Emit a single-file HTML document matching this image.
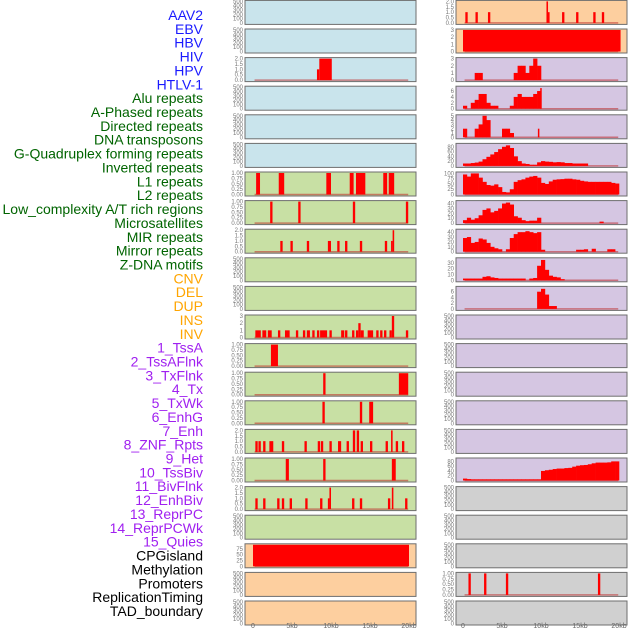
<!DOCTYPE html>
<html><head><meta charset="utf-8">
<style>
html,body{margin:0;padding:0;background:#fff;}
svg{display:block;font-family:"Liberation Sans",sans-serif;}
</style></head>
<body>
<svg id="chart" width="630" height="630" viewBox="0 0 630 630"></svg>
<script>
const NS="http://www.w3.org/2000/svg";
const svg=document.getElementById('chart');

// ---------- data ----------
const trackLabels=["AAV2","EBV","HBV","HIV","HPV","HTLV-1","Alu repeats","A-Phased repeats","Directed repeats","DNA transposons","G-Quadruplex forming repeats","Inverted repeats","L1 repeats","L2 repeats","Low_complexity A/T rich regions","Microsatellites","MIR repeats","Mirror repeats","Z-DNA motifs","CNV","DEL","DUP","INS","INV","1_TssA","2_TssAFlnk","3_TxFlnk","4_Tx","5_TxWk","6_EnhG","7_Enh","8_ZNF_Rpts","9_Het","10_TssBiv","11_BivFlnk","12_EnhBiv","13_ReprPC","14_ReprPCWk","15_Quies","CPGisland","Methylation","Promoters","ReplicationTiming","TAD_boundary"];
const labelColors=["#1a1aff","#1a1aff","#1a1aff","#1a1aff","#1a1aff","#1a1aff","#006400","#006400","#006400","#006400","#006400","#006400","#006400","#006400","#006400","#006400","#006400","#006400","#006400","#ffa500","#ffa500","#ffa500","#ffa500","#ffa500","#a020f0","#a020f0","#a020f0","#a020f0","#a020f0","#a020f0","#a020f0","#a020f0","#a020f0","#a020f0","#a020f0","#a020f0","#a020f0","#a020f0","#a020f0","#000","#000","#000","#000","#000"];
const xTicks=[0,5,10,15,20];
const xTickLabels=["0","5kb","10kb","15kb","20kb"];

// sparse events: [startKb, endKb, value]
const hivEvents=[[8.2,8.5,1],[8.5,10.1,2]];
const l1Events=[[0.4,0.9,1],[3.3,4.0,1],[9.4,10.0,1],[12.4,12.9,1],[13.2,14.4,1],[16.7,17.2,1],[17.4,18.1,1]];
const l2Events=[[2.2,2.5,1],[5.8,6.1,1],[12.8,13.1,1],[19.6,19.9,1]];
const lowCxEvents=[[3.5,3.8,1],[4.8,5.1,1],[6.9,7.2,1],[9.6,10.0,1],[10.8,11.1,1],[11.8,12.1,1],[13.7,14.0,1],[16.9,17.2,1],[17.7,17.9,1],[17.9,18.1,2]];
const znaEvents=[[0.3,1.0,1],[1.2,1.7,1],[1.9,2.4,1],[3.2,3.5,1],[4.1,4.7,1],[5.5,5.8,1],[6.4,6.7,1],[6.9,7.3,1],[7.6,7.9,1],[8.2,8.5,1],[8.6,9.5,1],[9.8,10.1,1],[11.3,11.7,1],[11.8,12.1,1],[12.7,13.0,1],[13.2,13.5,1],[13.5,13.8,2],[13.8,14.2,1],[14.7,15.4,1],[15.8,16.1,1],[16.3,16.6,1],[16.8,17.1,1],[17.5,17.8,1],[17.8,18.1,3],[19.6,19.9,1]];
const cnvEvents=[[2.3,3.2,1]];
const delEvents=[[9.0,9.3,1],[18.7,19.9,1]];
const dupEvents=[[8.9,9.2,1],[13.7,14.0,1],[14.9,15.4,1]];
const tssaEvents=[[0.3,0.6,1],[0.7,1.0,1],[1.3,1.6,1],[2.1,2.6,1],[3.7,4.0,1],[6.6,6.9,1],[8.3,8.6,1],[8.7,9.0,1],[9.8,10.1,1],[10.9,11.3,1],[12.0,12.3,1],[12.8,13.1,2],[13.3,13.6,2],[13.8,14.1,1],[15.0,15.3,1],[17.0,17.3,1],[17.7,17.9,2],[18.3,18.6,1],[19.1,19.4,1]];
const flnkEvents=[[4.2,4.6,1],[9.0,9.3,1],[17.8,18.3,1]];
const txEvents=[[0.3,0.6,1],[1.3,1.6,1],[3.1,3.4,1],[3.7,4.0,1],[4.7,5.0,1],[6.7,7.0,1],[8.6,8.9,1],[9.6,9.8,1],[9.8,10.0,2],[12.7,13.0,1],[13.7,14.0,1],[17.3,17.6,1],[17.8,18.0,2],[19.5,19.8,1]];
const cpgEvents=[[0,20,92]];
const aav2Events=[[0.3,0.6,1],[1.6,1.9,1],[3.2,3.5,1],[10.7,10.9,2],[10.9,11.1,1],[12.7,13.0,1],[14.5,14.8,1],[16.7,17.0,1],[17.8,18.1,1]];
const ebvEvents=[[0,20.2,3]];
const promEvents=[[0.7,1.0,1],[2.7,3.0,1],[5.5,5.8,1],[17.3,17.6,1]];

// dense 0.5kb-bin series
const hbvBins=[0,0,0,1,1,0,0,0,0,0,0,0,0,1,2,2,1,2,3,2];
const hpvBins=[1,0,2,3,5,5,2,1,1,0,0,0,1,4,5,4,4,4,5,6];
const hpvSpike=[[9.9,10.05,7]];
const aluBins=[2,0,0,2,3,5,4,0,0,0,2,2,1,0,0,0,0,0,0,0];
const aluSpike=[[9.6,9.75,2]];
const aphBins=[10,10,12,14,18,28,38,48,58,70,80,86,75,40,20,10,8,5,5,15,20,18,17,15,16,15,12,12,10,10,10,10];
const dirBins=[95,85,100,100,80,60,45,42,48,35,12,10,25,60,68,72,80,85,88,80,55,50,62,70,72,73,75,75,72,70,65,62,60,60,60,60,60,60,55,52];
const dnaBins=[6,11,7,10,16,27,30,22,25,30,40,42,38,14,11,6,4,5,5,11,0,0,0,0,0,0,0,0,0,0,0,0,0,0,0,3];
const gquadBins=[28,30,18,20,27,25,18,10,7,5,0,5,28,36,40,40,42,40,38,40,4,0,0,0,0,0,0,0,0,4,4,5,0,6,0,0,0,5,5];
const invBins=[3,3,3,3,3,6,7,5,4,3,3,3,3,3,3,3,0,3,4,25,35,18,8,6,5,2];
const l1rBins=[0,0,0,0,0,0,0,0,0,0,0,0,0,0,0,0,0,0,0,6,7,5,1,1];
const hetBins=[8,6,5,5,5,5,5,5,5,5,5,5,5,5,5,5,5,5,5,5,40,43,45,48,50,50,52,53,58,62,64,65,68,72,75,75,75,76,80,80];

// y-axis ranges and ticks
const emptyTicks=[0,100,200,300,400,500];
const unitTicks=[0,0.25,0.5,0.75,1];
const halfTicks=[0,0.5,1,1.5,2];

const BLUE="#c9e4ec",GREEN="#c8e0a4",ORANGE="#fdcf9f",PURPLE="#d5c6e2",GREY="#d0d0d0";

// panel definitions: [column,row,bg,max,ticks,tickFmt,events,bins,extra]
const panels=[
 [0,0,BLUE,500,emptyTicks,0,null,null],[0,1,BLUE,500,emptyTicks,0,null,null],
 [0,2,BLUE,2,halfTicks,1,hivEvents,null],[0,3,BLUE,500,emptyTicks,0,null,null],
 [0,4,BLUE,500,emptyTicks,0,null,null],[0,5,BLUE,500,emptyTicks,0,null,null],
 [0,6,GREEN,1,unitTicks,2,l1Events,null],[0,7,GREEN,1,unitTicks,2,l2Events,null],
 [0,8,GREEN,2,halfTicks,1,lowCxEvents,null],[0,9,GREEN,500,emptyTicks,0,null,null],
 [0,10,GREEN,500,emptyTicks,0,null,null],[0,11,GREEN,3,[0,1,2,3],0,znaEvents,null],
 [0,12,GREEN,1,unitTicks,2,cnvEvents,null],[0,13,GREEN,1,unitTicks,2,delEvents,null],
 [0,14,GREEN,1,unitTicks,2,dupEvents,null],[0,15,GREEN,2,halfTicks,1,tssaEvents,null],
 [0,16,GREEN,1,unitTicks,2,flnkEvents,null],[0,17,GREEN,2,halfTicks,1,txEvents,null],
 [0,18,GREEN,500,emptyTicks,0,null,null],[0,19,ORANGE,92,[0,25,50,75],0,cpgEvents,null],
 [0,20,ORANGE,500,emptyTicks,0,null,null],[0,21,ORANGE,500,emptyTicks,0,null,null],
 [1,0,ORANGE,2,halfTicks,1,aav2Events,null],[1,1,ORANGE,3,[0,1,2,3],0,ebvEvents,null],
 [1,2,PURPLE,3,[0,1,2,3],0,null,hbvBins],[1,3,PURPLE,7.3,[0,2,4,6],0,hpvSpike,hpvBins],
 [1,4,PURPLE,5,[0,1,2,3,4,5],0,aluSpike,aluBins],[1,5,PURPLE,90,[0,20,40,60,80],0,null,aphBins],
 [1,6,PURPLE,102,[0,25,50,75,100],0,null,dirBins],[1,7,PURPLE,44,[0,10,20,30,40],0,null,dnaBins],
 [1,8,PURPLE,44,[0,10,20,30,40],0,null,gquadBins],[1,9,PURPLE,37,[0,10,20,30],0,null,invBins],
 [1,10,PURPLE,7.5,[0,2,4,6],0,null,l1rBins],[1,11,PURPLE,500,emptyTicks,0,null,null],
 [1,12,PURPLE,500,emptyTicks,0,null,null],[1,13,PURPLE,500,emptyTicks,0,null,null],
 [1,14,PURPLE,500,emptyTicks,0,null,null],[1,15,PURPLE,500,emptyTicks,0,null,null],
 [1,16,PURPLE,90,[0,20,40,60,80],0,null,hetBins],[1,17,GREY,500,emptyTicks,0,null,null],
 [1,18,GREY,500,emptyTicks,0,null,null],[1,19,GREY,500,emptyTicks,0,null,null],
 [1,20,GREY,1,unitTicks,2,promEvents,null],[1,21,GREY,500,emptyTicks,0,null,null]
];

// ---------- layout ----------
const colLeft=[245,456], panelW=171, panelH=24, rowPitch=28.6, rowTop0=0.4;
const kb0=[253,463], pxPerKb=7.8;
function xScale(col,kb){return kb0[col]+kb*pxPerKb;}
function el(tag,attrs,parent){const e=document.createElementNS(NS,tag);for(const k in attrs)e.setAttribute(k,attrs[k]);(parent||svg).appendChild(e);return e;}

// labels
trackLabels.forEach((t,i)=>{
  const tx=el('text',{x:203,y:20+i*13.86,'text-anchor':'end','font-size':14,fill:labelColors[i]});
  
  
  tx.textContent=t;
});

panels.forEach(p=>{
  const [col,row,bg,max,ticks,fmt,events,bins]=p;
  const top=rowTop0+row*rowPitch, left=colLeft[col];
  const y0=top+panelH-1.5, yT=top+1;
  const yS=v=>y0-(v/max)*(y0-yT);
  const g=el('g',{});
  
  
  const r=el('rect',{x:left,y:top,width:panelW,height:panelH,fill:bg,stroke:'#6e6e6e','stroke-width':1},g);
  
  
  // y ticks
  ticks.forEach(t=>{
    const lb=el('text',{x:left-2,y:yS(t)+2,'text-anchor':'end','font-size':6,fill:'#777'},g);
    
    
    lb.textContent=fmt===2?t.toFixed(2):fmt===1?t.toFixed(1):String(t);
  });
  const hasData=events||bins;
  if(hasData){
    const bl=el('line',{x1:xScale(col,0.2),x2:xScale(col,19.9),y1:y0,y2:y0,stroke:'rgba(190,40,40,0.55)','stroke-width':1.5},g);
    
    
  }
  if(bins){
    bins.forEach((v,i)=>{
      if(!v)return;
      const x1=xScale(col,i*0.5),x2=xScale(col,(i+1)*0.5);
      const b=el('rect',{x:x1,y:yS(v),width:x2-x1+0.3,height:y0-yS(v),fill:'#ff0000'},g);
      
      
    });
  }
  if(events){
    events.forEach(e=>{
      const x1=xScale(col,e[0]),x2=xScale(col,e[1]);
      const b=el('rect',{x:x1,y:yS(e[2]),width:Math.max(x2-x1,1.5),height:y0-yS(e[2]),fill:'#ff0000'},g);
      
      
    });
  }
});

// x ticks
[0,1].forEach(col=>{
  xTicks.forEach((t,i)=>{
    const lb=el('text',{x:xScale(col,t),y:628,'text-anchor':'middle','font-size':7,fill:'#666'});
    
    
    lb.textContent=xTickLabels[i];
  });
});
</script>
</body></html>
